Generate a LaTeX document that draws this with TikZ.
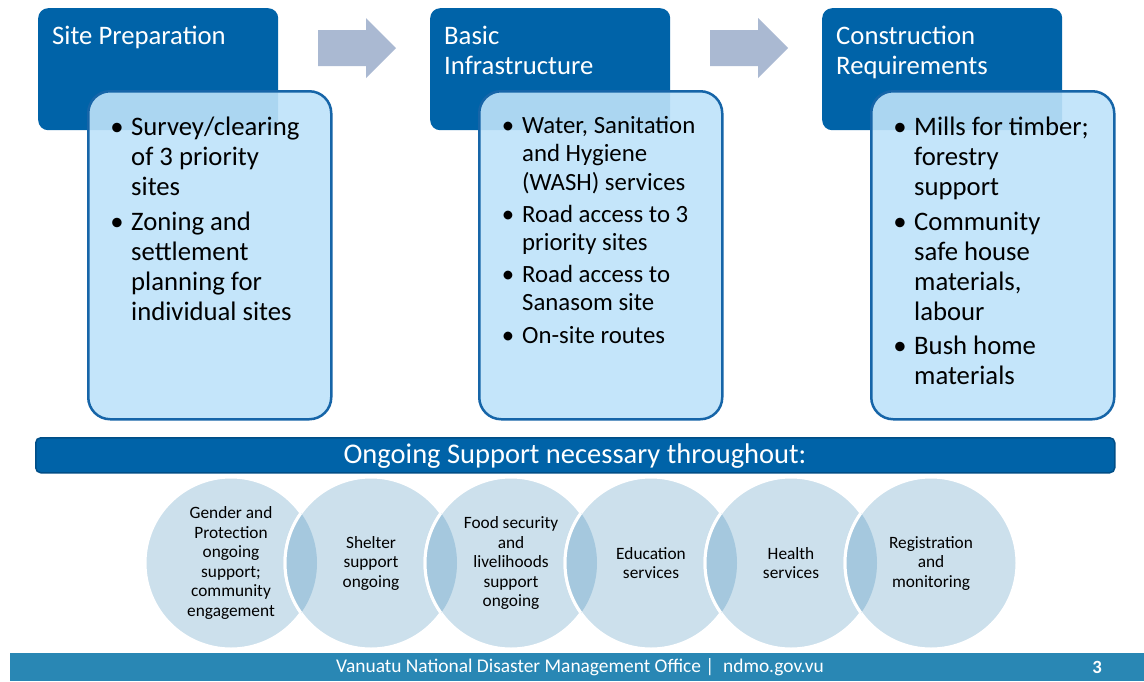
\documentclass[tikz,border=0pt]{standalone}
\usepackage{fontspec}
\setmainfont{Carlito}
\definecolor{dblue}{RGB}{0,99,168}
\definecolor{lfill}{RGB}{190,227,250}
\definecolor{lborder}{RGB}{22,101,168}
\definecolor{arrowc}{RGB}{170,185,210}
\definecolor{circc}{RGB}{204,224,236}
\definecolor{lensc}{RGB}{165,200,222}
\definecolor{footc}{RGB}{41,135,180}
\definecolor{barline}{RGB}{0,78,135}
\begin{document}
\begin{tikzpicture}[x=1pt,y=-1pt,
 hdr/.style={draw=none, fill=dblue, rounded corners=10pt, minimum width=240pt, minimum height=122pt, anchor=north west, inner sep=0pt},
 card/.style={draw=lborder, line width=2.5pt, fill=lfill, fill opacity=0.9, rounded corners=22pt, minimum width=243pt, minimum height=328pt, anchor=north west, inner sep=0pt},
 htxt/.style={anchor=base west, inner sep=0pt, text=white, align=left, font=\fontsize{26.7}{30}\selectfont},
 btxt/.style={anchor=base west, inner sep=0pt, align=left, font=\fontsize{26.7}{30}\selectfont},
 btxtb/.style={anchor=base west, inner sep=0pt, align=left, font=\fontsize{24.8}{28.5}\selectfont},
 bul/.style={anchor=base, inner sep=0pt, font=\fontsize{26.7}{30}\selectfont},
 bulb/.style={anchor=base, inner sep=0pt, font=\fontsize{24.8}{28.5}\selectfont},
 arr/.style={fill=arrowc, draw=none},
 circ/.style={circle, draw=white, line width=3pt, fill=circc, minimum size=172pt, inner sep=0pt},
 ctxt/.style={align=center, inner sep=0pt, font=\fontsize{17.3}{19.5}\selectfont},
]
\useasboundingbox (0,0) rectangle (1144,681);
\fill[white] (0,0) rectangle (1144,681);

% top blocks
\node[hdr] (d1) at (38,8) {};
\node[hdr] (d2) at (430,8) {};
\node[hdr] (d3) at (822,8) {};
\node[card] (l1) at (87,90) {};
\node[card] (l2) at (478,90) {};
\node[card] (l3) at (870,90) {};

% (multi-line nodes: base anchor = baseline of last line)
\node[htxt] (h1) at (52,44) {Site Preparation};
\node[htxt] (h2) at (444,74) {Basic\\Infrastructure};
\node[htxt] (h3) at (836,74) {Construction\\Requirements};

% arrows
\fill[arr] (318,30) -- (366,30) -- (366,18) -- (396,48) -- (366,78) -- (366,66) -- (318,66) -- cycle;
\fill[arr] (710,30) -- (758,30) -- (758,18) -- (788,48) -- (758,78) -- (758,66) -- (710,66) -- cycle;

% box 1 bullets
\node[bul] (p1a) at (117,135) {•};
\node[btxt] (t1a) at (131,195) {Survey/clearing\\of 3 priority\\sites};
\node[bul] (p1b) at (117,230) {•};
\node[btxt] (t1b) at (131,320) {Zoning and\\settlement\\planning for\\individual sites};

% box 2 bullets
\node[bulb] (p2a) at (508,133) {•};
\node[btxtb] (t2a) at (522,190) {Water, Sanitation\\and Hygiene\\(WASH) services};
\node[bulb] (p2b) at (508,222) {•};
\node[btxtb] (t2b) at (522,250.5) {Road access to 3\\priority sites};
\node[bulb] (p2c) at (508,282) {•};
\node[btxtb] (t2c) at (522,310.5) {Road access to\\Sanasom site};
\node[bulb] (p2d) at (508,343) {•};
\node[btxtb] (t2d) at (522,343) {On-site routes};

% box 3 bullets
\node[bul] (p3a) at (900,135) {•};
\node[btxt] (t3a) at (914,195) {Mills for timber;\\forestry\\support};
\node[bul] (p3b) at (900,230) {•};
\node[btxt] (t3b) at (914,320) {Community\\safe house\\materials,\\labour};
\node[bul] (p3c) at (900,354) {•};
\node[btxt] (t3c) at (914,384) {Bush home\\materials};

% ongoing bar
\node[fill=dblue, draw=barline, line width=1.5pt, rounded corners=5pt, minimum width=1079pt, minimum height=35pt, anchor=north west, inner sep=0pt] (bar) at (35,437) {};
\node[text=white, inner sep=0pt, font=\fontsize{28.5}{30}\selectfont] (bart) at (575,456) {Ongoing Support necessary throughout:};

% circles
\node[circ] (c1) at (231,563) {};
\node[circ] (c2) at (371,563) {};
\node[circ] (c3) at (511,563) {};
\node[circ] (c4) at (651,563) {};
\node[circ] (c5) at (791,563) {};
\node[circ] (c6) at (931,563) {};
\foreach \a/\b in {c1/c2,c2/c3,c3/c4,c4/c5,c5/c6}{
  \begin{scope}
    \clip (\a.center) circle (86);
    \fill[lensc] (\b.center) circle (86);
    \draw[white, line width=3pt] (\b.center) circle (86);
  \end{scope}
}
\node[ctxt] (x1) at (c1.center) {Gender and\\Protection\\ongoing\\support;\\community\\engagement};
\node[ctxt] (x2) at (c2.center) {Shelter\\support\\ongoing};
\node[ctxt] (x3) at (c3.center) {Food security\\and\\livelihoods\\support\\ongoing};
\node[ctxt] (x4) at (c4.center) {Education\\services};
\node[ctxt] (x5) at (c5.center) {Health\\services};
\node[ctxt] (x6) at (c6.center) {Registration\\and\\monitoring};

% footer
\node[fill=footc, minimum width=1134pt, minimum height=28pt, anchor=north west, inner sep=0pt] (foot) at (10,653) {};
\node[text=white, inner sep=0pt, font=\fontsize{19.4}{20}\selectfont] (ft) at (580,667) {Vanuatu National Disaster Management Office~|~~ndmo.gov.vu};
\node[text=white, inner sep=0pt, font=\fontsize{18.7}{20}\selectfont\bfseries] (pg) at (1097,667) {3};
\end{tikzpicture}
\end{document}
